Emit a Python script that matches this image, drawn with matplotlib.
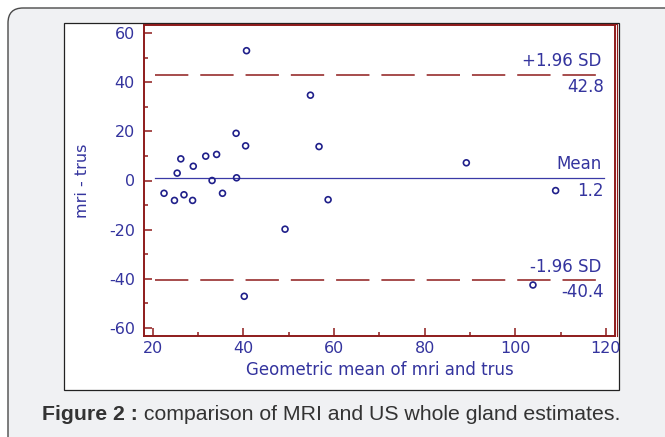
import matplotlib
matplotlib.use("Agg")
import matplotlib.pyplot as plt
from matplotlib.patches import FancyBboxPatch, Rectangle
from matplotlib.ticker import MultipleLocator

# Bland-Altman data: geometric mean of mri and trus vs difference (mri - trus)
geo_mean = [22.5, 24.8, 25.4, 26.2, 26.9, 28.8, 28.95, 31.7, 33.1, 34.1, 35.4,
            38.4, 38.5, 40.5, 40.7, 54.8, 56.7, 58.7, 49.2, 40.2, 89.2, 108.9, 103.9]
diff = [-5.2, -8.1, 3.0, 8.8, -5.8, -8.1, 5.8, 9.9, 0.0, 10.6, -5.2,
        19.2, 1.1, 14.1, 52.8, 34.7, 13.8, -7.8, -19.8, -47.1, 7.2, -4.1, -42.5]
mean_diff = 1.2
upper_loa = 42.8
lower_loa = -40.4
line_span = [20.5, 118.0]
x_ticks = [20, 40, 60, 80, 100, 120]
y_ticks = [-60, -40, -20, 0, 20, 40, 60]

RED = "#8e1b1b"
BLUE = "#34349e"
NAVY = "#1f1f8a"

plt.rcParams["lines.scale_dashes"] = False
plt.rcParams["axes.unicode_minus"] = False
plt.rcParams["font.family"] = "DejaVu Sans"

W, H = 665, 437
fig = plt.figure(figsize=(W / 100, H / 100), dpi=100)
fig.patch.set_facecolor("white")

# page furniture drawn in pixel coordinates
bg = fig.add_axes([0, 0, 1, 1], zorder=0)
bg.set_xlim(0, W)
bg.set_ylim(H, 0)
bg.axis("off")
bg.add_patch(FancyBboxPatch((8, 8), 720, 520, boxstyle="round,pad=0,rounding_size=15",
                            fc="#f0f1f3", ec="#4a4a4a", lw=1.0))
bg.add_patch(Rectangle((64, 23), 555, 367, fc="white", ec="#222222", lw=0.9))
bg.plot([144, 616.5, 616.5], [23.5, 23.5, 336], color=RED, lw=0.8)

t1 = bg.text(42, 424, "Figure 2 :", family="Liberation Sans", fontsize=15.3,
             fontweight="bold", color="#333333", va="bottom")
bg.annotate(" comparison of MRI and US whole gland estimates.", xy=(1, 0),
            xycoords=t1, family="Liberation Sans", fontsize=15.3,
            color="#333333", va="bottom", ha="left")

ax = fig.add_axes([144 / W, 1 - 336 / H, (615 - 144) / W, (336 - 25) / H], zorder=1)
ax.set_facecolor("none")

ax.plot(line_span, [upper_loa, upper_loa], color=RED, lw=1.1, dashes=(24, 8.6))
ax.plot(line_span, [lower_loa, lower_loa], color=RED, lw=1.1, dashes=(24, 8.6))
ax.plot([line_span[0], 119.6], [mean_diff, mean_diff], color="#3a3aa6", lw=0.9)

ax.scatter(geo_mean, diff, s=18, facecolors="none", edgecolors=NAVY,
           linewidths=1.2, zorder=3)

lab_x = 119.1
lab_kw = dict(textcoords="offset points", ha="right", va="baseline",
              fontsize=12, color=BLUE)
ax.annotate("+1.96 SD", xy=(lab_x, upper_loa), xytext=(0, 6.5), **lab_kw)
ax.annotate(f"{upper_loa:.1f}", xy=(lab_x + 0.4, upper_loa), xytext=(0, -12.2), **lab_kw)
ax.annotate("Mean", xy=(lab_x, mean_diff), xytext=(0, 5.8), **lab_kw)
ax.annotate(f"{mean_diff:.1f}", xy=(lab_x + 0.4, mean_diff), xytext=(0, -13), **lab_kw)
ax.annotate("-1.96 SD", xy=(lab_x, lower_loa), xytext=(0, 5.3), **lab_kw)
ax.annotate(f"{lower_loa:.1f}", xy=(lab_x + 0.4, lower_loa), xytext=(0, -12.7), **lab_kw)

ax.set_xlim(18.08, 122.0)
ax.set_ylim(-63.25, 63.25)
ax.set_xticks(x_ticks)
ax.set_yticks(y_ticks)
ax.xaxis.set_minor_locator(MultipleLocator(10))
ax.yaxis.set_minor_locator(MultipleLocator(10))

for side in ["left", "bottom", "top", "right"]:
    ax.spines[side].set_color(RED)
    ax.spines[side].set_linewidth(1.4)

ax.tick_params(which="both", direction="in", color=RED, width=1.1,
               top=False, right=False)
ax.tick_params(which="major", length=6)
ax.tick_params(which="minor", length=3)
ax.tick_params(axis="x", which="major", pad=3.5, labelsize=11.5, labelcolor=BLUE)
ax.tick_params(axis="y", which="major", pad=6.5, labelsize=11.5, labelcolor=BLUE)

ax.set_xlabel("Geometric mean of mri and trus", fontsize=12, color=BLUE, labelpad=3.5)
ax.set_ylabel("mri - trus", fontsize=11.5, color=BLUE, labelpad=14)

fig.savefig("out.png", dpi=100)
